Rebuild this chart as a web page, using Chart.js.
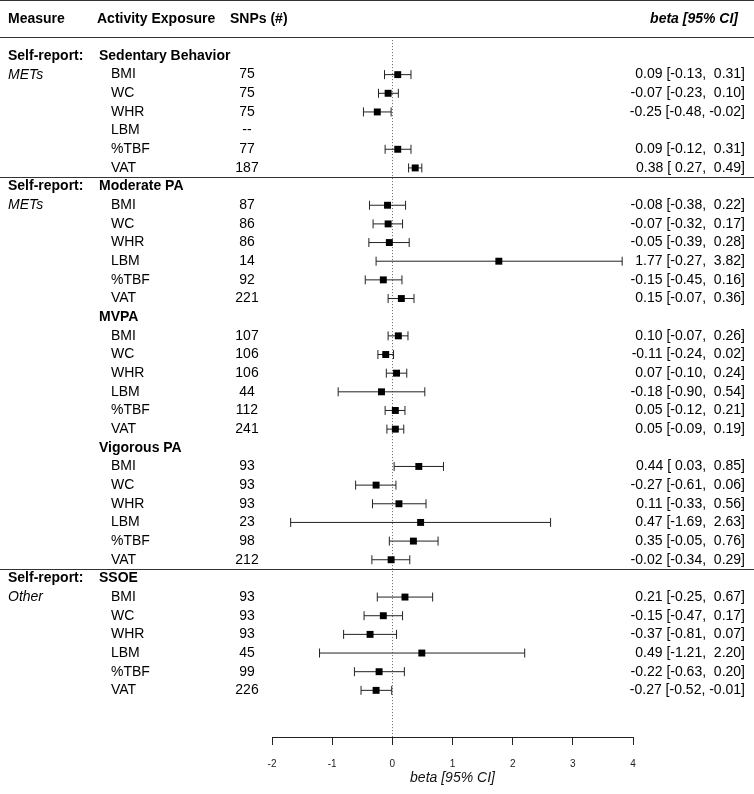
<!DOCTYPE html>
<html>
<head>
<meta charset="utf-8">
<script src="https://cdn.jsdelivr.net/npm/chart.js@4.4.1/dist/chart.umd.min.js"></script>
<style>
  html, body { margin: 0; padding: 0; background: #fff; }
  #wrap { width: 754px; height: 794px; }
</style>
</head>
<body>
<div id="wrap"><canvas id="forest" width="754" height="794"></canvas></div>
<script>
// outcome measures, same order within every exposure block
const measures = ['BMI', 'WC', 'WHR', 'LBM', '%TBF', 'VAT'];

const groupNames = ['Sedentary Behavior', 'Moderate PA', 'MVPA', 'Vigorous PA', 'SSOE'];
const groupPrefix = ['Self-report:', 'Self-report:', '', '', 'Self-report:'];
const groupUnit = ['METs', 'METs', '', '', 'Other'];

const snps = [
  ['75', '75', '75', '--', '77', '187'],
  ['87', '86', '86', '14', '92', '221'],
  ['107', '106', '106', '44', '112', '241'],
  ['93', '93', '93', '23', '98', '212'],
  ['93', '93', '93', '45', '99', '226']
];

const beta = [
  [0.09, -0.07, -0.25, null, 0.09, 0.38],
  [-0.08, -0.07, -0.05, 1.77, -0.15, 0.15],
  [0.10, -0.11, 0.07, -0.18, 0.05, 0.05],
  [0.44, -0.27, 0.11, 0.47, 0.35, -0.02],
  [0.21, -0.15, -0.37, 0.49, -0.22, -0.27]
];

const lower = [
  [-0.13, -0.23, -0.48, null, -0.12, 0.27],
  [-0.38, -0.32, -0.39, -0.27, -0.45, -0.07],
  [-0.07, -0.24, -0.10, -0.90, -0.12, -0.09],
  [0.03, -0.61, -0.33, -1.69, -0.05, -0.34],
  [-0.25, -0.47, -0.81, -1.21, -0.63, -0.52]
];

const upper = [
  [0.31, 0.10, -0.02, null, 0.31, 0.49],
  [0.22, 0.17, 0.28, 3.82, 0.16, 0.36],
  [0.26, 0.02, 0.24, 0.54, 0.21, 0.19],
  [0.85, 0.06, 0.56, 2.63, 0.76, 0.29],
  [0.67, 0.17, 0.07, 2.20, 0.20, -0.01]
];

const xTicks = [-2, -1, 0, 1, 2, 3, 4];

const FONT = '"Liberation Sans", Arial, sans-serif';

// each exposure block = header row + 6 measure rows
const rows = [];
groupNames.forEach((name, g) => {
  const base = g * 7;
  rows.push({ type: 'group', y: base, g: g });
  measures.forEach((m, i) => {
    rows.push({
      type: 'item', y: base + 1 + i, g: g, measure: m,
      snp: snps[g][i], est: beta[g][i], lo: lower[g][i], hi: upper[g][i]
    });
  });
});

const items = rows.filter(r => r.type === 'item' && r.est !== null);
const points = items.map(r => ({ x: r.est, y: r.y }));

function fmtNum(v) {
  const s = v.toFixed(2);
  return v >= 0 ? ' ' + s : s;
}

const forestPlugin = {
  id: 'forest',
  beforeDatasetsDraw(chart) {
    const { ctx, scales: { x, y } } = chart;
    ctx.save();
    // reference line at zero
    ctx.strokeStyle = '#666';
    ctx.lineWidth = 1;
    ctx.setLineDash([1, 2]);
    ctx.beginPath();
    const x0 = Math.round(x.getPixelForValue(0)) + 0.5;
    ctx.moveTo(x0, y.getPixelForValue(-0.85));
    ctx.lineTo(x0, y.getPixelForValue(36.5));
    ctx.stroke();
    ctx.setLineDash([]);

    // confidence intervals
    ctx.strokeStyle = '#222';
    items.forEach(r => {
      const py = y.getPixelForValue(r.y);
      const a = x.getPixelForValue(r.lo);
      const b = x.getPixelForValue(r.hi);
      ctx.beginPath();
      ctx.moveTo(a, py);
      ctx.lineTo(b, py);
      ctx.moveTo(a, py - 4.5);
      ctx.lineTo(a, py + 4.5);
      ctx.moveTo(b, py - 4.5);
      ctx.lineTo(b, py + 4.5);
      ctx.stroke();
    });
    ctx.restore();
  },
  afterDraw(chart) {
    const { ctx, scales: { y } } = chart;
    const W = chart.width;
    ctx.save();
    ctx.fillStyle = '#000';
    ctx.textBaseline = 'middle';

    // rules
    ctx.strokeStyle = '#333';
    ctx.lineWidth = 1;
    const hline = (v) => {
      const py = Math.round(y.getPixelForValue(v)) + 0.5;
      ctx.beginPath();
      ctx.moveTo(0, py);
      ctx.lineTo(W, py);
      ctx.stroke();
    };
    hline(-3);
    hline(-1);
    hline(6.5);
    hline(27.5);

    // column headers
    const hy = y.getPixelForValue(-2);
    ctx.font = 'bold 14px ' + FONT;
    ctx.textAlign = 'left';
    ctx.fillText('Measure', 8, hy);
    ctx.fillText('Activity Exposure', 97, hy);
    ctx.fillText('SNPs (#)', 230, hy);
    ctx.font = 'italic bold 14px ' + FONT;
    ctx.textAlign = 'right';
    ctx.fillText('beta [95% CI]', 738, hy);

    rows.forEach(r => {
      const py = y.getPixelForValue(r.y);
      if (r.type === 'group') {
        ctx.font = 'bold 14px ' + FONT;
        ctx.textAlign = 'left';
        if (groupPrefix[r.g]) ctx.fillText(groupPrefix[r.g], 8, py);
        ctx.fillText(groupNames[r.g], 99, py);
        if (groupUnit[r.g]) {
          ctx.font = 'italic 14px ' + FONT;
          ctx.fillText(groupUnit[r.g], 8, y.getPixelForValue(r.y + 1));
        }
      } else {
        ctx.font = '14px ' + FONT;
        ctx.textAlign = 'left';
        ctx.fillText(r.measure, 111, py);
        ctx.textAlign = 'center';
        ctx.fillText(r.snp, 247, py);
        if (r.est !== null) {
          ctx.textAlign = 'right';
          ctx.fillText(r.est.toFixed(2) + ' [' + fmtNum(r.lo) + ', ' + fmtNum(r.hi) + ']', 745, py);
        }
      }
    });
    ctx.restore();
  }
};

new Chart(document.getElementById('forest'), {
  type: 'scatter',
  data: {
    datasets: [{
      data: points,
      pointStyle: 'rect',
      pointRadius: 4.9,
      pointHoverRadius: 4.9,
      backgroundColor: '#000',
      borderWidth: 0
    }]
  },
  options: {
    responsive: false,
    animation: false,
    events: [],
    layout: { autoPadding: false, padding: { left: 272, right: 121, top: 0, bottom: 0 } },
    plugins: { legend: { display: false }, tooltip: { enabled: false } },
    scales: {
      x: {
        type: 'linear',
        min: -2,
        max: 4,
        afterFit(scale) { scale.height = 57; },
        afterBuildTicks(scale) { scale.ticks = xTicks.map(v => ({ value: v })); },
        border: { display: true, color: '#222', width: 1 },
        grid: { drawOnChartArea: false, drawTicks: true, tickLength: 8, color: '#222' },
        ticks: {
          padding: 13,
          color: '#222',
          maxRotation: 0,
          font: { family: FONT, size: 10 }
        },
        title: {
          display: true,
          text: 'beta [95% CI]',
          color: '#111',
          padding: { top: 0, bottom: 7 },
          font: { family: FONT, size: 14, style: 'italic' }
        }
      },
      y: {
        type: 'linear',
        display: false,
        reverse: true,
        min: -3,
        max: 36.5
      }
    }
  },
  plugins: [forestPlugin]
});
</script>
</body>
</html>
